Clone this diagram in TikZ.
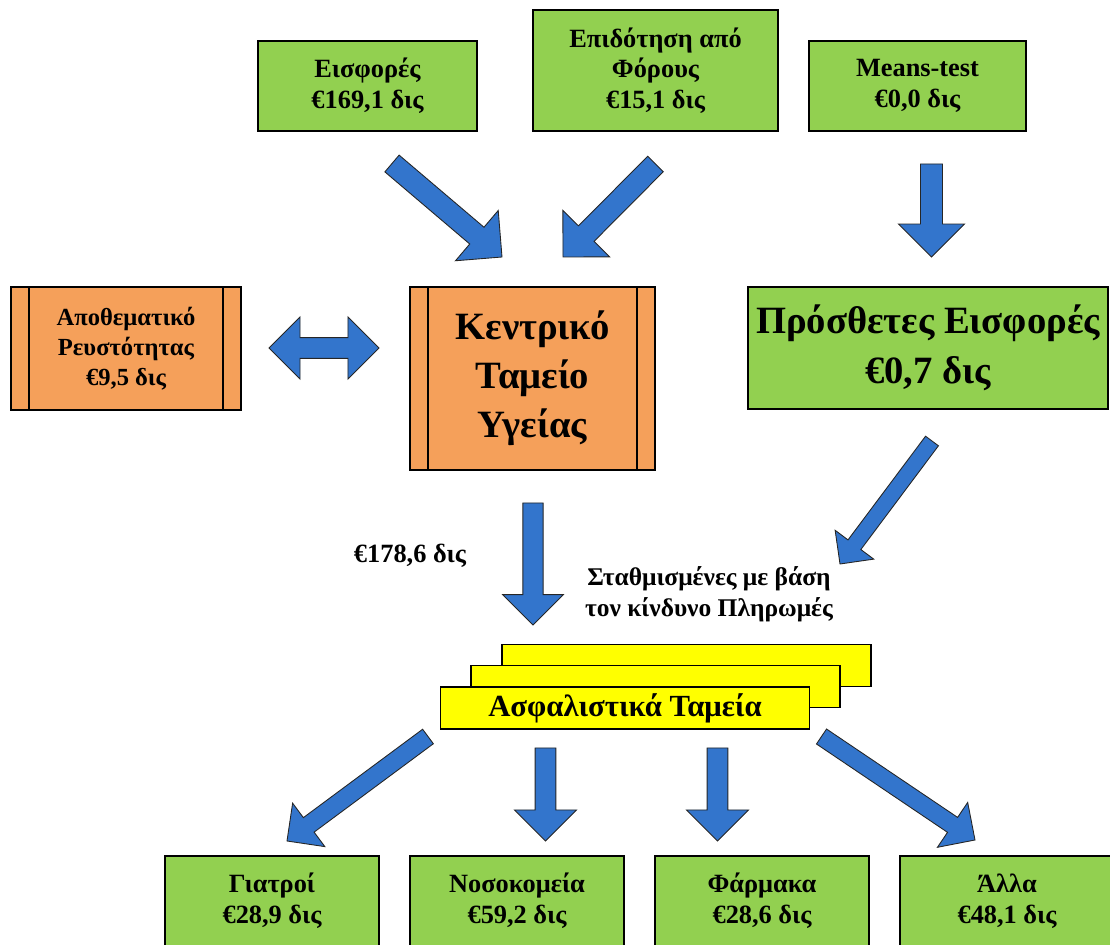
\documentclass[tikz,border=0pt]{standalone}
\usepackage{fontspec}
\setmainfont{Liberation Serif}
\usetikzlibrary{calc}
\definecolor{boxgreen}{RGB}{146,208,80}
\definecolor{boxorange}{RGB}{245,160,90}
\definecolor{boxyellow}{RGB}{255,255,0}
\definecolor{arrowblue}{RGB}{51,117,204}
\tikzset{>=latex}

% block arrow: [scale]{tail}{tip}
\newcommand{\fatarrow}[3][1]{%
  \coordinate (fa-b) at ($(#3)!#1*0.66cm!(#2)$);
  \filldraw[blockarrow] ($(#2)!#1*0.22cm!90:(#3)$) -- ($(fa-b)!#1*0.22cm!90:(#3)$)
    -- ($(fa-b)!#1*0.66cm!90:(#3)$) -- (#3) -- ($(fa-b)!#1*0.66cm!-90:(#3)$)
    -- ($(fa-b)!#1*0.22cm!-90:(#3)$) -- ($(#2)!#1*0.22cm!-90:(#3)$) -- cycle;}
% two-headed block arrow: [scale]{end}{end}
\newcommand{\fatdblarrow}[3][1]{%
  \coordinate (fa-a) at ($(#2)!#1*0.66cm!(#3)$);
  \coordinate (fa-b) at ($(#3)!#1*0.66cm!(#2)$);
  \filldraw[blockarrow] (#2) -- ($(fa-a)!#1*0.66cm!90:(#3)$) -- ($(fa-a)!#1*0.22cm!90:(#3)$)
    -- ($(fa-b)!#1*0.22cm!90:(#3)$) -- ($(fa-b)!#1*0.66cm!90:(#3)$) -- (#3)
    -- ($(fa-b)!#1*0.66cm!-90:(#3)$) -- ($(fa-b)!#1*0.22cm!-90:(#3)$)
    -- ($(fa-a)!#1*0.22cm!-90:(#3)$) -- ($(fa-a)!#1*0.66cm!-90:(#3)$) -- cycle;}

\begin{document}
\begin{tikzpicture}
    [
      x=0.02cm, y=-0.02cm,
      greenbox/.style={draw, line width=0.7pt, fill=boxgreen, align=center, font=\bfseries\fontsize{15}{17.5}\selectfont, minimum width=4.38cm, minimum height=1.8cm},
      fundbox/.style={draw, line width=0.7pt, fill=boxorange, align=center, minimum width=4.6cm,
        path picture={\draw[line width=0.7pt] ([xshift=0.36cm]path picture bounding box.north west) -- ([xshift=0.36cm]path picture bounding box.south west);
                      \draw[line width=0.7pt] ([xshift=-0.36cm]path picture bounding box.north east) -- ([xshift=-0.36cm]path picture bounding box.south east);}},
      insbox/.style={draw, line width=0.7pt, fill=boxyellow, minimum width=7.38cm, minimum height=0.84cm, font=\bfseries\fontsize{17.5}{20}\selectfont},
      blockarrow/.style={fill=arrowblue, draw=black!85, line width=0.5pt, line join=miter},
      lbl/.style={align=center, font=\bfseries\fontsize{14.5}{17.5}\selectfont}
    ]
    \useasboundingbox (0,0) rectangle (1110,945);

    % sources
    \node (contrib) [greenbox] at (367.5,86) {Εισφορές\\€169,1 δις};
    \node (subsidy) [greenbox, minimum width=4.9cm, minimum height=2.42cm] at (655.5,70.5) {Επιδότηση από\\Φόρους\\€15,1 δις};
    \node (means) [greenbox, minimum width=4.34cm] at (917.5,86) {Means-test\\€0,0 δις};

    % funds
    \node (reserve) [fundbox, minimum height=2.46cm, font=\bfseries\fontsize{14}{17}\selectfont] at (126,348.5) {Αποθεματικό\\Ρευστότητας\\€9,5 δις};
    \node (central) [fundbox, minimum width=4.9cm, minimum height=3.66cm, font=\bfseries\fontsize{22}{28}\selectfont] at (532.5,378.5) {Κεντρικό\\Ταμείο\\Υγείας};
    \node (extra) [greenbox, minimum width=7.2cm, minimum height=2.44cm, font=\bfseries\fontsize{22}{28.5}\selectfont] at (928,348) {Πρόσθετες Εισφορές\\€0,7 δις};

    % insurers
    \node (ins-3) [insbox] at (686.5,665.5) {};
    \node (ins-2) [insbox] at (655.5,686.5) {};
    \node (ins-1) [insbox] at (625,708) {Ασφαλιστικά Ταμεία};

    \node (amount) [lbl, font=\bfseries\fontsize{15}{18}\selectfont] at (410,556) {€178,6 δις};
    \node (weighted) [lbl] at (709,594) {Σταθμισμένες με βάση\\τον κίνδυνο Πληρωμές};

    % spending
    \node (doctors) [greenbox, minimum width=4.28cm] at (272,901) {Γιατροί\\€28,9 δις};
    \node (hospitals) [greenbox, minimum width=4.28cm] at (517,901) {Νοσοκομεία\\€59,2 δις};
    \node (drugs) [greenbox, minimum width=4.28cm] at (762,901) {Φάρμακα\\€28,6 δις};
    \node (other) [greenbox, minimum width=4.28cm] at (1007,901) {Άλλα\\€48,1 δις};

    % arrow ends
    \coordinate (a-contrib) at (392,163.5);
    \coordinate (b-contrib) at (502,257);
    \coordinate (a-subsidy) at (655.5,164);
    \coordinate (b-subsidy) at (563,257);
    \coordinate (a-means) at (931.5,164);
    \coordinate (b-means) at (931.5,257);
    \coordinate (a-reserve) at (269,348);
    \coordinate (b-reserve) at (379,348);
    \coordinate (a-central) at (533,503);
    \coordinate (b-central) at (533,625);
    \coordinate (a-extra) at (932,441);
    \coordinate (b-extra) at (840,564);
    \coordinate (a-doctors) at (428,736.5);
    \coordinate (b-doctors) at (287,841);
    \coordinate (a-hospitals) at (545.5,748);
    \coordinate (b-hospitals) at (545.5,841);
    \coordinate (a-drugs) at (717.5,748);
    \coordinate (b-drugs) at (717.5,841);
    \coordinate (a-other) at (821.5,736.5);
    \coordinate (b-other) at (975,840);

    \fatarrow{a-contrib}{b-contrib}
    \fatarrow{a-subsidy}{b-subsidy}
    \fatarrow{a-means}{b-means}
    \fatdblarrow[0.94]{a-reserve}{b-reserve}
    \fatarrow[0.92]{a-central}{b-central}
    \fatarrow[0.73]{a-extra}{b-extra}
    \fatarrow[0.82]{a-doctors}{b-doctors}
    \fatarrow[0.94]{a-hospitals}{b-hospitals}
    \fatarrow[0.94]{a-drugs}{b-drugs}
    \fatarrow[0.82]{a-other}{b-other}
  \end{tikzpicture}
\end{document}
